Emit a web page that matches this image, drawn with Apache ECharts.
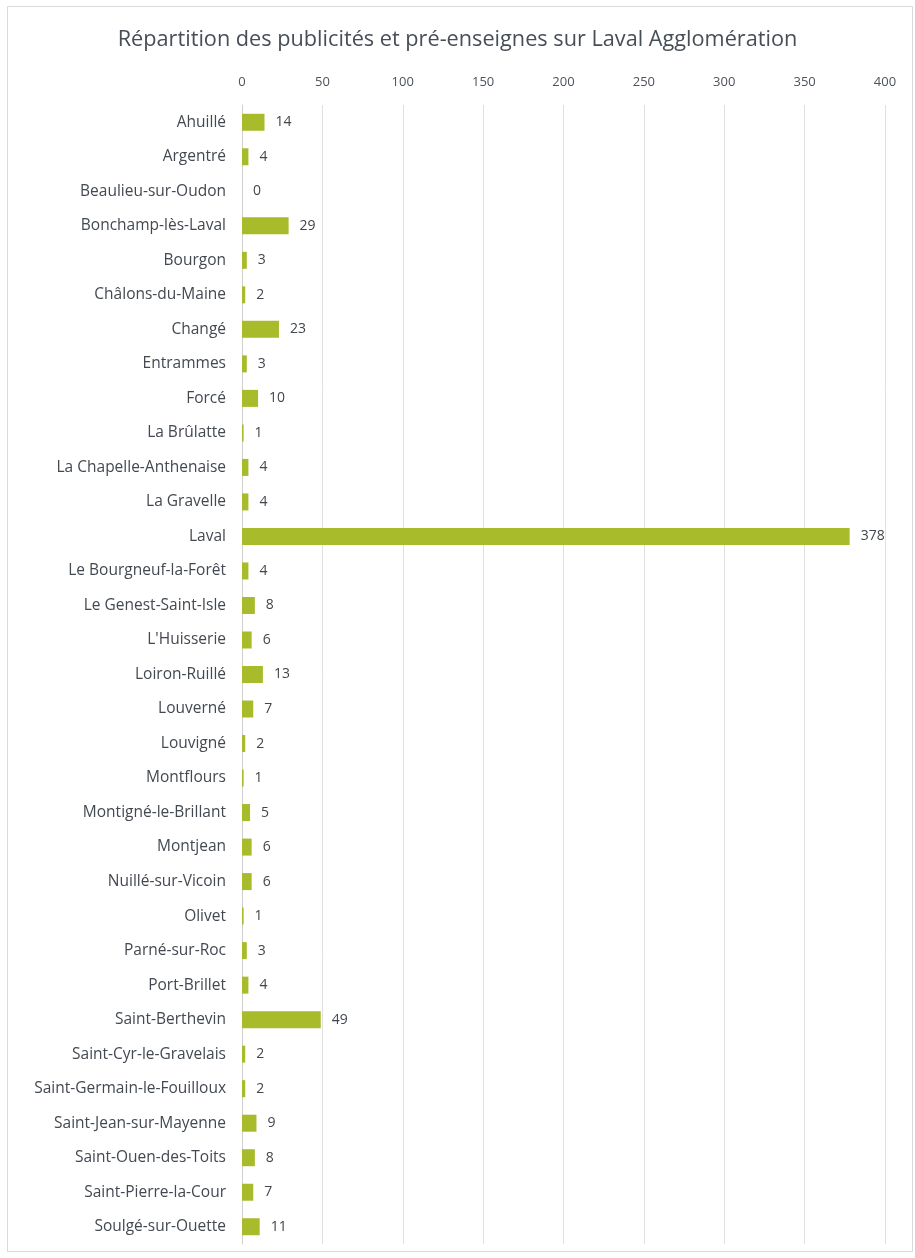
<!DOCTYPE html>
<html>
<head>
<meta charset="utf-8">
<script src="https://cdn.jsdelivr.net/npm/echarts@6/dist/echarts.min.js"></script>
<style>
  html, body { margin: 0; padding: 0; background: #ffffff; }
  #chart { width: 915px; height: 1258px; }
</style>
</head>
<body>
<div id="chart"></div>
<script>
// Communes of Laval Agglomération, top to bottom
const communes = [
  "Ahuillé", "Argentré", "Beaulieu-sur-Oudon", "Bonchamp-lès-Laval", "Bourgon",
  "Châlons-du-Maine", "Changé", "Entrammes", "Forcé", "La Brûlatte",
  "La Chapelle-Anthenaise", "La Gravelle", "Laval", "Le Bourgneuf-la-Forêt",
  "Le Genest-Saint-Isle", "L'Huisserie", "Loiron-Ruillé", "Louverné", "Louvigné",
  "Montflours", "Montigné-le-Brillant", "Montjean", "Nuillé-sur-Vicoin", "Olivet",
  "Parné-sur-Roc", "Port-Brillet", "Saint-Berthevin", "Saint-Cyr-le-Gravelais",
  "Saint-Germain-le-Fouilloux", "Saint-Jean-sur-Mayenne", "Saint-Ouen-des-Toits",
  "Saint-Pierre-la-Cour", "Soulgé-sur-Ouette"
];

// Number of advertisements and pre-signs per commune
const counts = [
  14, 4, 0, 29, 3,
  2, 23, 3, 10, 1,
  4, 4, 378, 4,
  8, 6, 13, 7, 2,
  1, 5, 6, 6, 1,
  3, 4, 49, 2,
  2, 9, 8,
  7, 11
];

const titleText = "Répartition des publicités et pré-enseignes sur Laval Agglomération";

const font = "'Open Sans', 'Noto Sans', sans-serif";
const chart = echarts.init(document.getElementById('chart'), null, { renderer: 'canvas' });

chart.setOption({
  backgroundColor: '#ffffff',
  animation: false,
  title: {
    text: titleText,
    left: 'center',
    top: 24,
    textStyle: { fontFamily: font, fontSize: 21.7, fontWeight: 'normal', color: '#474e57' }
  },
  graphic: [{
    type: 'rect',
    shape: { x: 7.5, y: 6.5, width: 905, height: 1245 },
    style: { fill: 'none', stroke: '#d9d9d9', lineWidth: 1 },
    silent: true,
    z: -1
  }],
  grid: { left: 242, right: 30, top: 105, bottom: 14, containLabel: false },
  xAxis: {
    type: 'value',
    position: 'top',
    min: 0,
    max: 400,
    interval: 50,
    axisLine: { show: false },
    axisTick: { show: false },
    axisLabel: { fontFamily: font, fontSize: 13, color: '#4d535b', margin: 16 },
    splitLine: { show: true, lineStyle: { color: '#e0e0e0', width: 1 } }
  },
  yAxis: {
    type: 'category',
    data: communes,
    inverse: true,
    axisLine: { show: true, lineStyle: { color: '#cfcfcf', width: 1 } },
    axisTick: { show: false },
    axisLabel: { fontFamily: font, fontSize: 15.5, color: '#434951', margin: 16 }
  },
  series: [{
    type: 'bar',
    data: counts,
    barWidth: 17,
    itemStyle: { color: '#a8bb2b' },
    label: {
      show: true,
      position: 'right',
      distance: 11,
      fontFamily: font,
      fontSize: 14,
      color: '#41474e'
    }
  }]
});
</script>
</body>
</html>
